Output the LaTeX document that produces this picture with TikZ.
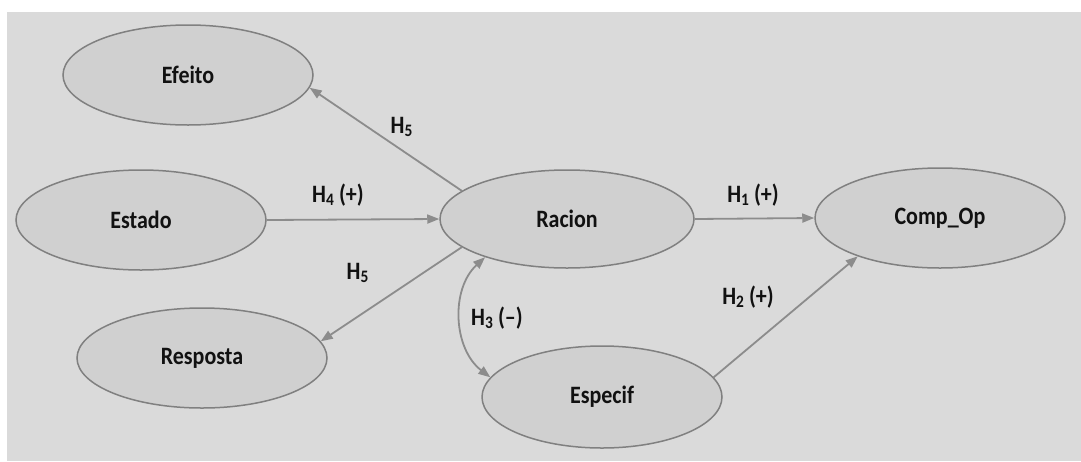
\documentclass[tikz,border=0pt]{standalone}
\usepackage{fontspec}
\setmainfont{Carlito}[FakeStretch=0.88]
\usetikzlibrary{arrows.meta,shapes.geometric}
\definecolor{panelFill} {HTML}{DADADA}
\definecolor{nodeFill}  {HTML}{D0D0D0}
\definecolor{nodeLine}  {HTML}{808080}
\definecolor{arrowC}    {HTML}{8C8C8C}
\definecolor{textC}     {HTML}{111111}
\tikzset{
  >={Triangle[length=6pt,width=4.5pt]},
  construct/.style={ellipse,draw=nodeLine,line width=0.75pt,fill=nodeFill,
    inner sep=0pt,minimum width=125pt,minimum height=50pt,text=textC,
    font=\fontsize{12.5}{14}\selectfont\bfseries},
  hypArrow/.style={->,draw=arrowC,line width=0.9pt},
  hypLabel/.style={text=textC,font=\fontsize{12.5}{14}\selectfont\bfseries},
}
\begin{document}
\begin{tikzpicture}[x=0.5pt,y=-0.5pt]
\useasboundingbox (0,0) rectangle (1081,461);
\fill[panelFill] (7,12) rectangle (1081,461);
% constructs
\node[construct] (efeito) at (188,75) {Efeito};
\node[construct] (estado) at (141,220) {Estado};
\node[construct] (resposta) at (202,358) {Resposta};
\node[construct,minimum width=127pt,minimum height=49pt] (racion) at (567,219) {Racion};
\node[construct] (compop) at (940,218) {Comp\_Op};
\node[construct,minimum width=120pt,minimum height=51pt] (especif) at (602,397) {Especif};
% hypotheses
\draw[hypArrow] (racion.165) -- (efeito.-6);
\draw[hypArrow] (estado.east) -- (racion.west);
\draw[hypArrow] (racion.195) -- (resposta.8);
\draw[hypArrow] (racion.east) -- (compop.west);
\draw[hypArrow] (especif.10) -- (compop.205);
\draw[hypArrow,<->] (racion.205) to[bend right=50] (especif.170);
% labels
\node[hypLabel] (h5a) at (402,127) {H\textsubscript{5}};
\node[hypLabel] (h4) at (338,195) {H\textsubscript{4}\,(+)};
\node[hypLabel] (h5b) at (358,273) {H\textsubscript{5}};
\node[hypLabel] (h1) at (753,195) {H\textsubscript{1}\,(+)};
\node[hypLabel] (h2) at (748,297) {H\textsubscript{2}\,(+)};
\node[hypLabel] (h3) at (497,318) {H\textsubscript{3}\,(--)};
\end{tikzpicture}
\end{document}
